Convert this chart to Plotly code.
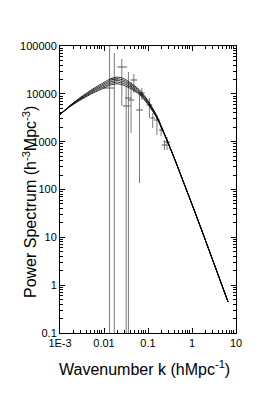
import plotly.graph_objects as go

# ---- model curves ----
k_model = [0.001, 0.00178, 0.00316, 0.00562, 0.01, 0.0141, 0.02, 0.0282, 0.0398,
           0.0631, 0.1, 0.158, 0.251, 0.398, 0.631, 1.0, 1.585, 2.512, 3.981, 6.6]
log10P_model_1 = [3.57, 3.775, 3.95, 4.105, 4.24, 4.315, 4.35, 4.32, 4.23, 4.09, 3.86,
                  3.545, 3.11, 2.655, 2.17, 1.69, 1.20, 0.70, 0.20, -0.35]
log10P_model_2 = [3.57, 3.768, 3.935, 4.083, 4.21, 4.283, 4.315, 4.285, 4.20, 4.065, 3.84,
                  3.533, 3.105, 2.653, 2.17, 1.69, 1.20, 0.70, 0.20, -0.35]
log10P_model_3 = [3.57, 3.76, 3.92, 4.06, 4.18, 4.25, 4.28, 4.25, 4.17, 4.04, 3.82,
                  3.52, 3.10, 2.65, 2.17, 1.69, 1.20, 0.70, 0.20, -0.35]
log10P_model_4 = [3.57, 3.753, 3.905, 4.038, 4.15, 4.218, 4.245, 4.215, 4.14, 4.015, 3.80,
                  3.508, 3.095, 2.648, 2.17, 1.69, 1.20, 0.70, 0.20, -0.35]
log10P_model_5 = [3.57, 3.745, 3.89, 4.015, 4.12, 4.185, 4.21, 4.18, 4.11, 3.99, 3.78,
                  3.495, 3.09, 2.645, 2.17, 1.69, 1.20, 0.70, 0.20, -0.35]

k_data = [0.0134, 0.01714, 0.0254, 0.0319, 0.0359, 0.0478, 0.0412, 0.0641, 0.0726,
          0.1077, 0.128, 0.1595, 0.199, 0.2704, 0.2366]
P_data = [13240, 20400, 36400, 5570, 8180, 19460, 7430, 4590, 10400,
          5840, 3125, 2838, 1753, 984, 851]
P_high = [300000, 71400, 53500, 14580, 28600, 26000, 17700, 10400, 13240,
          8180, 3975, 3607, 2125, 1251, 1084]
P_low = [0.001, 0.001, 5570, 0.001, 0.001, 10400, 1517, 137, 7430,
         3125, 1930, 1377, 1313, 670, 670]
k_low = [0.00964, 0.0136, 0.0202, 0.0271, 0.0299, 0.0402, 0.0352, 0.0541, 0.0636,
         0.0929, 0.113, 0.1377, 0.177, 0.2254, 0.204]
k_high = [0.0174, 0.0212, 0.0331, 0.0402, 0.0423, 0.0568, 0.049, 0.0762, 0.0841,
          0.1247, 0.1445, 0.185, 0.2254, 0.318, 0.275]

x_tickvals = [0.001, 0.01, 0.1, 1, 10]
x_ticktext = ["1E-3", "0.01", "0.1", "1", "10"]
y_tickvals = [0.1, 1, 10, 100, 1000, 10000, 100000]
y_ticktext = ["0.1", "1", "10", "100", "1000", "10000", "100000"]

FONT = "Liberation Sans, Arial, sans-serif"

fig = go.Figure()

err_col = "#7a7a7a"
fig.add_trace(go.Scatter(
    x=k_data, y=P_data, mode="markers",
    marker=dict(size=1, color="rgba(0,0,0,0)"),
    error_y=dict(type="data", symmetric=False,
                 array=[h - p for h, p in zip(P_high, P_data)],
                 arrayminus=[p - l for p, l in zip(P_data, P_low)],
                 width=0, thickness=1, color=err_col),
    error_x=dict(type="data", symmetric=False,
                 array=[h - k for h, k in zip(k_high, k_data)],
                 arrayminus=[k - l for k, l in zip(k_data, k_low)],
                 width=0, thickness=1, color="#555555"),
    showlegend=False, hoverinfo="skip"))

for logs in [log10P_model_1, log10P_model_2, log10P_model_3, log10P_model_4, log10P_model_5]:
    fig.add_trace(go.Scatter(
        x=k_model, y=[10 ** v for v in logs], mode="lines",
        line=dict(color="black", width=0.8, shape="spline", smoothing=0.6),
        showlegend=False, hoverinfo="skip"))

x_minor = [m * 10 ** e for e in range(-3, 1) for m in range(2, 10)]
y_minor = [m * 10 ** e for e in range(-1, 5) for m in range(2, 10)]

axis_common = dict(
    type="log", showline=True, linecolor="black", linewidth=1, mirror="ticks",
    ticks="inside", ticklen=5, tickwidth=1, tickcolor="black",
    showgrid=False, zeroline=False, tickmode="array",
    tickfont=dict(family=FONT, size=11, color="black"),
)

# page body has an 8px margin, so the figure is sized/offset to compensate
fig.update_layout(
    width=258, height=383, autosize=False,
    margin=dict(l=41, r=30, t=38, b=58),
    paper_bgcolor="white", plot_bgcolor="white",
    font=dict(family=FONT, color="black"),
    xaxis=dict(axis_common, range=[-3, 1], tickvals=x_tickvals, ticktext=x_ticktext,
               minor=dict(tickmode="array", tickvals=x_minor, ticks="inside",
                          ticklen=3, tickcolor="black", showgrid=False)),
    yaxis=dict(axis_common, range=[-1, 5], tickvals=y_tickvals, ticktext=y_ticktext,
               minor=dict(tickmode="array", tickvals=y_minor, ticks="inside",
                          ticklen=3, tickcolor="black", showgrid=False)),
    annotations=[
        dict(text="Wavenumber k (hMpc<sup>-1</sup>)", xref="paper", yref="paper",
             x=0.48, y=-0.122, xanchor="center", yanchor="middle", showarrow=False,
             font=dict(family=FONT, size=16, color="black")),
        dict(text="Power Spectrum (h<sup>-3</sup>Mpc<sup>-3</sup>)", xref="paper", yref="paper",
             x=-0.171, y=0.456, xanchor="center", yanchor="middle", showarrow=False,
             textangle=-90, font=dict(family=FONT, size=16, color="black")),
    ],
)

fig.write_html("out.html")
